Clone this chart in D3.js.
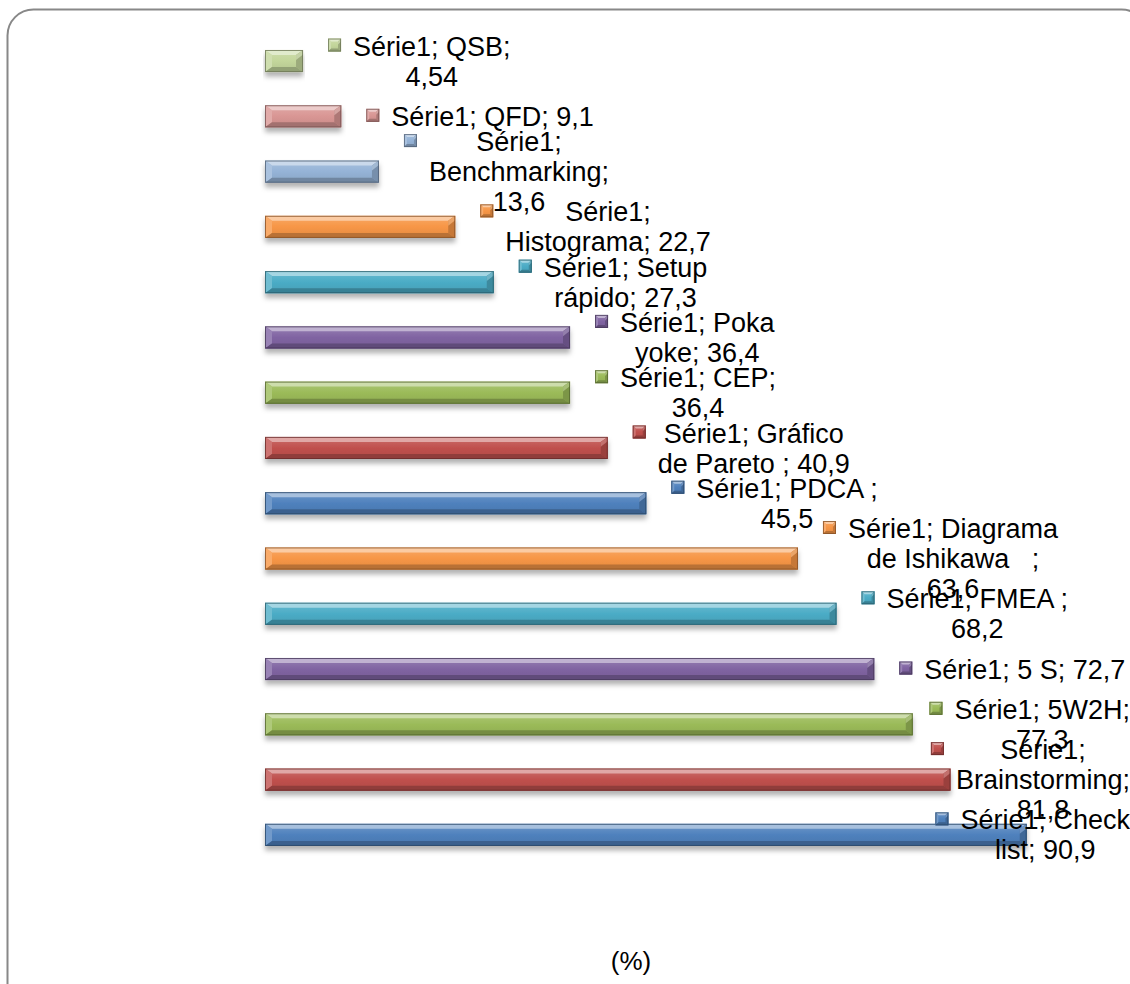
<!DOCTYPE html>
<html>
<head>
<meta charset="utf-8">
<script src="https://cdn.jsdelivr.net/npm/d3@7"></script>
<style>
  html, body { margin: 0; padding: 0; background: #fff; }
  svg { display: block; }
  text { font-family: "Liberation Sans", Arial, Helvetica, sans-serif; fill: #000; }
</style>
</head>
<body>
<svg id="chart" width="1130" height="984"></svg>
<script>
// Tools used (% of responses), listed in category-axis order (bottom bar first)
const categories = [
  "Check list", "Brainstorming", "5W2H", "5 S", "FMEA ", "Diagrama de Ishikawa   ",
  "PDCA ", "Gráfico de Pareto ", "CEP", "Poka yoke", "Setup rápido", "Histograma",
  "Benchmarking", "QFD", "QSB"
];
const values = [90.9, 81.8, 77.3, 72.7, 68.2, 63.6, 45.5, 40.9, 36.4, 36.4, 27.3, 22.7, 13.6, 9.1, 4.54];
const seriesName = "Série1";
const axisTitle = "(%)";
const xDomain = [0, 100];

// Office accent colours; points after the sixth repeat, after the twelfth use lighter tints
const accents = ["#4F81BD", "#C0504D", "#9BBB59", "#8064A2", "#4BACC6", "#F79646"];
const tints = ["#95B3D7", "#D99694", "#C3D69B"];
const colorOf = i => i < 12 ? accents[i % 6] : tints[(i - 12) % 3];

const svg = d3.select("#chart");
const defs = svg.append("defs");

// soft shadow under the bars
const shadow = defs.append("filter").attr("id", "shadow")
  .attr("x", "-5%").attr("y", "-40%").attr("width", "110%").attr("height", "220%");
shadow.append("feDropShadow").attr("dx", 0).attr("dy", 4.5).attr("stdDeviation", 2.6)
  .attr("flood-color", "#000").attr("flood-opacity", 0.3);

// chart frame
svg.append("rect")
  .attr("x", 7.5).attr("y", 9.5).attr("width", 1140).attr("height", 1000)
  .attr("rx", 26).attr("ry", 26)
  .attr("fill", "#fff").attr("stroke", "#888").attr("stroke-width", 2);

const x = d3.scaleLinear().domain(xDomain).range([265, 1103]);
const order = d3.range(categories.length).reverse(); // top-to-bottom indices
const y = d3.scaleBand().domain(order).range([33.4, 862.5]).paddingInner(0.6).paddingOuter(0.3);

const lighten = (c, t) => d3.interpolateRgb(c, "#fff")(t);
const darken = (c, t) => d3.interpolateRgb(c, "#000")(t);

// face gradient for a colour
let gradCount = 0;
function faceGradient(c) {
  const id = "face" + (gradCount++);
  const g = defs.append("linearGradient").attr("id", id)
    .attr("x1", 0).attr("y1", 0).attr("x2", 0).attr("y2", 1);
  g.append("stop").attr("offset", "0%").attr("stop-color", lighten(c, 0.18));
  g.append("stop").attr("offset", "50%").attr("stop-color", c);
  g.append("stop").attr("offset", "100%").attr("stop-color", darken(c, 0.08));
  return "url(#" + id + ")";
}

// bevelled block: face + four edge facets + outline
function bevel(g, x0, y0, w, h, c, e) {
  const x1 = x0 + w, y1 = y0 + h;
  const t = e.t, b = e.b, l = Math.min(e.l, w / 2), r = Math.min(e.r, w / 2);
  g.append("rect").attr("x", x0).attr("y", y0).attr("width", w).attr("height", h).attr("fill", faceGradient(c));
  const facets = [
    [[x0, y0], [x1, y0], [x1 - r, y0 + t], [x0 + l, y0 + t], lighten(c, 0.5)],
    [[x0, y0], [x0 + l, y0 + t], [x0 + l, y1 - b], [x0, y1], lighten(c, 0.2)],
    [[x1, y0], [x1, y1], [x1 - r, y1 - b], [x1 - r, y0 + t], darken(c, 0.2)],
    [[x0, y1], [x0 + l, y1 - b], [x1 - r, y1 - b], [x1, y1], darken(c, 0.25)]
  ];
  facets.forEach(f => {
    g.append("polygon").attr("points", f.slice(0, 4).map(p => p.join(",")).join(" ")).attr("fill", f[4]);
  });
  // small highlight on the upper part of the right facet
  g.append("polygon")
    .attr("points", [[x1, y0], [x1 - r, y0 + t], [x1 - r, y0 + h * 0.45], [x1, y0 + h * 0.2]].map(p => p.join(",")).join(" "))
    .attr("fill", lighten(c, 0.3)).attr("opacity", 0.7);
  g.append("rect").attr("x", x0 + 0.5).attr("y", y0 + 0.5).attr("width", w - 1).attr("height", h - 1)
    .attr("fill", "none").attr("stroke", darken(c, 0.45)).attr("stroke-width", 1).attr("opacity", 0.8);
}

// bars
const bars = svg.append("g");
categories.forEach((cat, i) => {
  const g = bars.append("g").attr("filter", "url(#shadow)");
  bevel(g, x(0), y(i), x(values[i]) - x(0), y.bandwidth(), colorOf(i), { t: 5, b: 5, l: 7, r: 7 });
});

// data labels: legend key + "series; category; value", word-wrapped and centred
const fontSize = 27, lineH = 30, maxLine = 213, rightLimit = 1130;
const fmt = v => String(v).replace(".", ",");
const measure = svg.append("text").attr("font-size", fontSize).attr("x", -1000).attr("y", -1000)
  .style("white-space", "pre");
const widthOf = s => { measure.text(s); return measure.node().getComputedTextLength(); };

function wrap(str) {
  const words = str.split(" ");
  const lines = [];
  let cur = null;
  words.forEach(w => {
    if (cur === null) { cur = w; return; }
    const trial = cur + " " + w;
    if (w === "" || widthOf(trial) <= maxLine) cur = trial;
    else { lines.push(cur); cur = w; }
  });
  if (cur !== null) lines.push(cur);
  return lines;
}

const labels = svg.append("g");
categories.forEach((cat, i) => {
  const text = seriesName + "; " + cat + "; " + fmt(values[i]);
  const lines = wrap(text);
  const bw = d3.max(lines, widthOf);
  const key = 13, gap = 12;
  let left = x(values[i]) + 25;
  if (left + key + gap + bw > rightLimit) left = rightLimit - bw - key - gap;
  const cy = y(i) + y.bandwidth() / 2;
  const n = lines.length;
  const capMid = k => cy + (k - (n - 1) / 2) * lineH;
  const g = labels.append("g");
  bevel(g.append("g"), left, capMid(0) - key / 2 - 1, key, key, colorOf(i), { t: 3, b: 3, l: 3, r: 3 });
  const cx = left + key + gap + bw / 2;
  lines.forEach((ln, k) => {
    g.append("text").attr("x", cx).attr("y", capMid(k) + 9.6)
      .attr("text-anchor", "middle").attr("font-size", fontSize)
      .style("white-space", "pre")
      .text(ln);
  });
});
measure.remove();

// value axis title
svg.append("text").attr("x", 631).attr("y", 970).attr("text-anchor", "middle")
  .attr("font-size", 26).text(axisTitle);
</script>
</body>
</html>
